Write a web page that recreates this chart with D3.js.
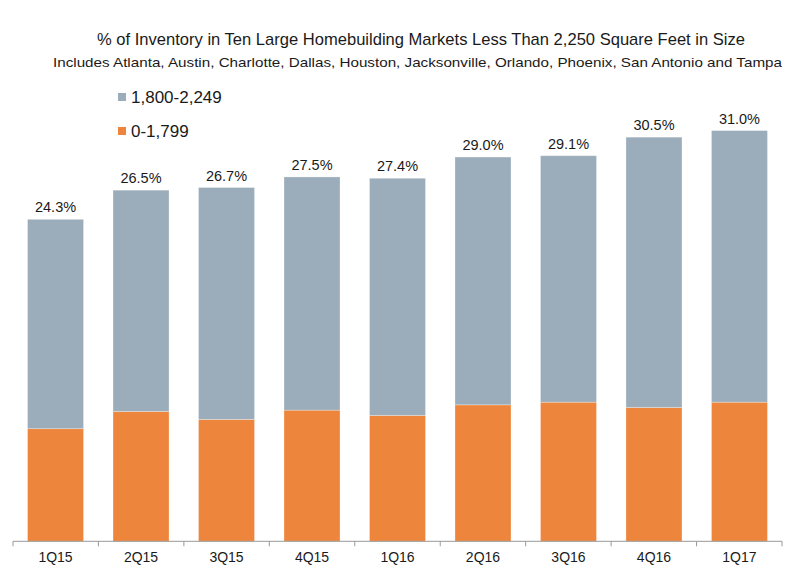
<!DOCTYPE html>
<html>
<head>
<meta charset="utf-8">
<script src="https://cdn.jsdelivr.net/npm/d3@7"></script>
<style>
  body { margin: 0; background: #fff; }
  svg text { font-family: "Liberation Sans", Arial, sans-serif; fill: #1a1a1a; }
</style>
</head>
<body>
<svg id="chart" width="800" height="583"></svg>
<script>
const quarters = ["1Q15", "2Q15", "3Q15", "4Q15", "1Q16", "2Q16", "3Q16", "4Q16", "1Q17"]
const totals = [24.3, 26.5, 26.7, 27.5, 27.4, 29.0, 29.1, 30.5, 31.0]
const small = [8.5, 9.8, 9.2, 9.9, 9.5, 10.3, 10.5, 10.1, 10.5]   // 0-1,799
const seriesNames = ["0-1,799", "1,800-2,249"]
const colors = { "0-1,799": "#ee853c", "1,800-2,249": "#9badba" }

const svg = d3.select("#chart")

// x band covers 13..782, baseline at ~541
const x = d3.scaleBand().domain(quarters).range([13, 782]).paddingInner(0.345).paddingOuter(0.17)
const y = d3.scaleLinear().domain([0, 35]).range([541.3, 541.3 - 35 * 13.25])

const rows = quarters.map((q, i) => ({ q, "0-1,799": small[i], "1,800-2,249": +(totals[i] - small[i]).toFixed(1), total: totals[i] }))
const stacked = d3.stack().keys(seriesNames)(rows)

svg.append("g").selectAll("g")
  .data(stacked)
  .enter().append("g")
  .attr("fill", (d) => colors[d.key])
  .selectAll("rect")
  .data((d) => d)
  .enter().append("rect")
  .attr("x", (d) => x(d.data.q))
  .attr("width", x.bandwidth())
  .attr("y", (d) => y(d[1]))
  .attr("height", (d) => y(d[0]) - y(d[1]))
  .attr("stroke", "#ffffff")
  .attr("stroke-opacity", 0.35)
  .attr("stroke-width", 0.8)

// total labels
svg.append("g").selectAll("text")
  .data(rows)
  .enter().append("text")
  .attr("x", (d) => x(d.q) + x.bandwidth() / 2)
  .attr("y", (d) => y(d.total) - 7)
  .attr("text-anchor", "middle")
  .attr("font-size", 14.5)
  .text((d) => d.total.toFixed(1) + "%")

// x axis with ticks at band edges
const axisG = svg.append("g")
axisG.append("line")
  .attr("x1", 13).attr("x2", 782).attr("y1", y(0)).attr("y2", y(0))
  .attr("stroke", "#999").attr("stroke-width", 1)
const edges = d3.range(quarters.length + 1).map((i) => 13 + i * (769 / quarters.length))
axisG.selectAll(".tick").data(edges).enter().append("line")
  .attr("x1", (d) => d).attr("x2", (d) => d)
  .attr("y1", y(0)).attr("y2", y(0) + 5)
  .attr("stroke", "#999")
axisG.selectAll(".lab").data(quarters).enter().append("text")
  .attr("x", (d) => x(d) + x.bandwidth() / 2)
  .attr("y", 562)
  .attr("text-anchor", "middle")
  .attr("font-size", 14)
  .text((d) => d)

// titles
svg.append("text")
  .attr("x", 97).attr("y", 45)
  .attr("font-size", 17)
  .attr("textLength", 648).attr("lengthAdjust", "spacingAndGlyphs")
  .text("% of Inventory in  Ten Large Homebuilding Markets Less Than 2,250 Square Feet in  Size")
svg.append("text")
  .attr("x", 53).attr("y", 67)
  .attr("font-size", 13.5)
  .attr("textLength", 729).attr("lengthAdjust", "spacingAndGlyphs")
  .text("Includes  Atlanta,  Austin,  Charlotte,  Dallas, Houston,  Jacksonville,  Orlando,  Phoenix, San Antonio and Tampa")

// legend
const legend = [
  { name: "1,800-2,249", y: 93 },
  { name: "0-1,799", y: 127 }
]
const lg = svg.append("g").selectAll("g").data(legend).enter().append("g")
lg.append("rect").attr("x", 118).attr("y", (d) => d.y).attr("width", 8).attr("height", 8)
  .attr("fill", (d) => colors[d.name])
lg.append("text").attr("x", 131).attr("y", (d) => d.y + 9.5)
  .attr("font-size", 17)
  .text((d) => d.name)
</script>
</body>
</html>
